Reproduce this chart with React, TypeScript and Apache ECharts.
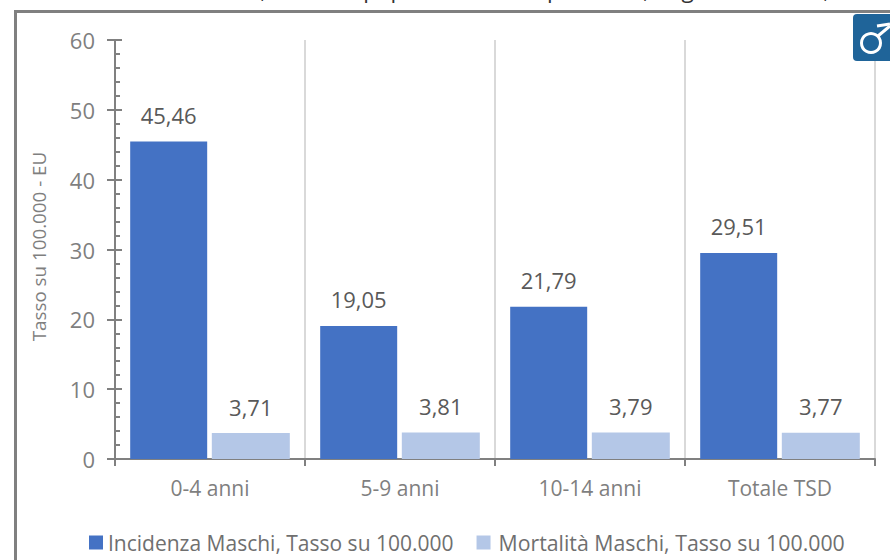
import React, { useEffect, useRef } from "react";
import * as echarts from "echarts";

const categories = ["0-4 anni", "5-9 anni", "10-14 anni", "Totale TSD"];
const incidenzaMaschi = [45.46, 19.05, 21.79, 29.51];
const mortalitaMaschi = [3.71, 3.81, 3.79, 3.77];
const seriesNames = ["Incidenza Maschi, Tasso su 100.000", "Mortalità Maschi, Tasso su 100.000"];
const yAxisName = "Tasso su 100.000 - EU";
const headline = "Incidenza e Mortalità, Tasso in popolazione Europea 2013, Regione Umbria, anni";

const FONT = '"Open Sans", sans-serif';
const TICK_GREY = "#7f7f7f";
const LABEL_GREY = "#595959";
const AXIS_GREY = "#808080";
const RULE_GREY = "#d9d9d9";
const Y_MAX = 60;

const formatValue = (p: { value: number }) => p.value.toFixed(2).replace(".", ",");

const barLabel = {
  show: true,
  position: "top" as const,
  distance: 15.5,
  formatter: formatValue,
  color: LABEL_GREY,
  fontFamily: FONT,
  fontSize: 22,
};

export default function App() {
  const ref = useRef<HTMLDivElement>(null);

  useEffect(() => {
    document.body.style.margin = "0";
    const chart = echarts.init(ref.current!, null, { renderer: "svg" });
    chart.setOption({
      animation: false,
      backgroundColor: "#ffffff",
      grid: { left: 115, right: 15, top: 40, bottom: 101 },
      legend: {
        left: 84,
        top: 527,
        itemWidth: 14,
        itemHeight: 14,
        itemGap: 23,
        icon: "rect",
        textStyle: { color: "#6f6f6f", fontFamily: FONT, fontSize: 21 },
        data: [
          { name: seriesNames[0] },
          { name: seriesNames[1], textStyle: { fontSize: 21.3, padding: [0, 0, 0, 3] } },
        ],
      },
      xAxis: [
        {
          type: "category",
          data: categories,
          axisLine: { lineStyle: { color: AXIS_GREY, width: 2 } },
          axisTick: { show: false },
          splitLine: { show: false },
          axisLabel: { color: TICK_GREY, fontFamily: FONT, fontSize: 21, margin: 18, interval: 0 },
        },
        {
          // Group boundaries: one tick and one vertical rule per category edge.
          type: "value",
          min: 0,
          max: categories.length,
          interval: 1,
          position: "bottom",
          axisLine: { show: false },
          axisLabel: { show: false },
          axisTick: { show: true, length: 7, lineStyle: { color: AXIS_GREY, width: 2 } },
          splitLine: { show: true, lineStyle: { color: RULE_GREY, width: 2 } },
        },
      ],
      yAxis: [
        {
          type: "value",
          min: 0,
          max: Y_MAX,
          interval: 10,
          name: yAxisName,
          nameLocation: "middle",
          nameGap: 67,
          nameRotate: 90,
          nameTextStyle: { color: TICK_GREY, fontFamily: FONT, fontSize: 18.8, padding: [0, 0, 0, 6] },
          axisLine: { show: true, lineStyle: { color: AXIS_GREY, width: 2 } },
          axisTick: { show: true, length: 8, lineStyle: { color: AXIS_GREY, width: 2 } },
          axisLabel: { color: TICK_GREY, fontFamily: FONT, fontSize: 22, margin: 20, padding: [0, 0, 6, 0] },
          splitLine: { show: false },
        },
        {
          // Inward half of the crossing major ticks, plus the minor ticks.
          type: "value",
          min: 0,
          max: Y_MAX,
          interval: 10,
          position: "left",
          axisLine: { show: false },
          axisTick: { show: true, inside: true, length: 7, lineStyle: { color: AXIS_GREY, width: 2 } },
          minorTick: { show: true, splitNumber: 5, length: 5, lineStyle: { color: AXIS_GREY, width: 2 } },
          axisLabel: { show: false },
          splitLine: { show: false },
        },
      ],
      series: [
        {
          name: seriesNames[0],
          type: "bar",
          data: incidenzaMaschi,
          barWidth: 77,
          barGap: "6%",
          itemStyle: { color: "#4472c4" },
          label: barLabel,
          z: 5,
        },
        {
          name: seriesNames[1],
          type: "bar",
          data: mortalitaMaschi,
          barWidth: 78,
          itemStyle: { color: "#b4c7e7" },
          label: barLabel,
          z: 5,
        },
      ],
      graphic: [
        // Frame of the pasted chart: left and top edges only.
        { type: "rect", shape: { x: 14, y: 10, width: 3, height: 550 }, style: { fill: "#808080" }, z: 10 },
        { type: "rect", shape: { x: 14, y: 10, width: 876, height: 3 }, style: { fill: "#808080" }, z: 10 },
        // Caption line above the frame, cut by the page edge.
        {
          type: "text",
          x: 41,
          y: -22.5,
          z: 10,
          style: { text: headline, fill: "#333333", font: `22.5px ${FONT}` },
        },
        // Male symbol badge in the top-right corner.
        { type: "rect", shape: { x: 853, y: 14, width: 50, height: 47, r: 4 }, style: { fill: "#1f6499" }, z: 10 },
        {
          type: "circle",
          shape: { cx: 871, cy: 43, r: 9.5 },
          style: { fill: "none", stroke: "#ffffff", lineWidth: 3 },
          z: 11,
        },
        {
          type: "line",
          shape: { x1: 878, y1: 36, x2: 890, y2: 26 },
          style: { stroke: "#ffffff", lineWidth: 3 },
          z: 11,
        },
        {
          type: "polyline",
          shape: { points: [[877, 26], [890, 24]] },
          style: { stroke: "#ffffff", lineWidth: 3, fill: "none" },
          z: 11,
        },
      ],
    });
    return () => chart.dispose();
  }, []);

  return <div ref={ref} style={{ position: "fixed", left: 0, top: 0, width: 890, height: 560 }} />;
}
